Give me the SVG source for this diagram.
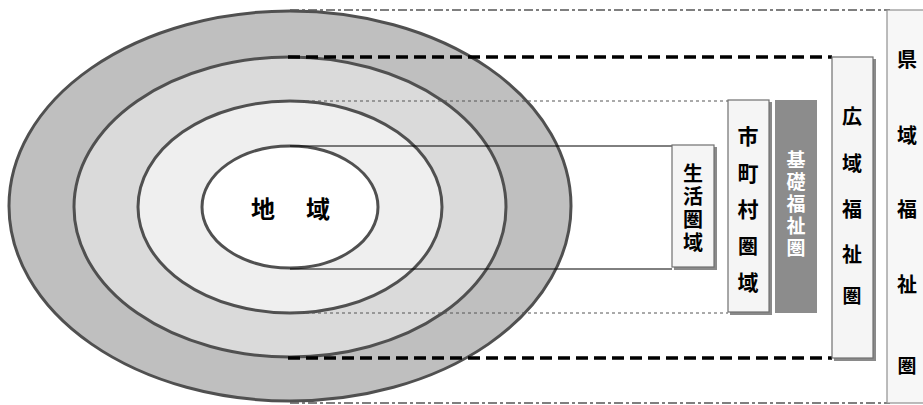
<svg xmlns="http://www.w3.org/2000/svg" width="923" height="405" viewBox="0 0 923 405">
<style>
.ring{stroke:#505050;stroke-width:3}
.t{font-family:"Noto Sans CJK JP","Noto Sans CJK SC",sans-serif;font-weight:bold;fill:#000;text-anchor:middle;dominant-baseline:central}
.v{writing-mode:vertical-rl;text-orientation:upright}
.box{fill:#f5f5f5;stroke:#707070;stroke-width:1.2}
.sh{fill:#8a8a8a}
.w{fill:#fff}
</style>
<rect width="923" height="405" fill="#fff"/>
<g id="ellipses">
<ellipse class="ring" cx="290" cy="206" rx="281" ry="195" fill="#bfbfbf"/>
<ellipse class="ring" cx="290" cy="207" rx="216" ry="150" fill="#dadada"/>
<ellipse class="ring" cx="290" cy="207" rx="152" ry="106" fill="#efefef"/>
<g id="chiiki">
<ellipse class="ring" cx="290" cy="207" rx="88" ry="61" fill="#fff"/>
<text class="t" x="263" y="207" font-size="24">地</text>
<text class="t" x="318" y="207" font-size="24">域</text>
</g>
</g>
<g id="connectors" fill="none">
<path d="M290 10H890M290 403H890" stroke="#555" stroke-width="1.5" stroke-dasharray="9,3,3,3"/>
<path d="M288 57H832M288 358H832" stroke="#000" stroke-width="3.5" stroke-dasharray="12,6"/>
<path d="M288 101H728M288 313H728" stroke="#555" stroke-width="1" stroke-dasharray="3,3"/>
<path d="M290 146H672M290 269H672" stroke="#000" stroke-width="1"/>
</g>
<g id="kenikifukushiken">
<rect x="887" y="10" width="40" height="393" fill="#f7f7f7" stroke="#909090" stroke-width="1.2"/>
<text class="t" x="907" y="58" font-size="20">県</text>
<text class="t" x="907" y="134" font-size="20">域</text>
<text class="t" x="907" y="208" font-size="20">福</text>
<text class="t" x="907" y="283" font-size="20">祉</text>
<text class="t" x="907" y="364" font-size="19">圏</text>
</g>
<g id="kouikifukushiken">
<rect class="sh" x="834" y="59" width="42" height="302"/>
<rect class="box" x="832" y="57" width="41" height="301"/>
<text class="t" x="852" y="115" font-size="20">広</text>
<text class="t" x="852" y="162" font-size="20">域</text>
<text class="t" x="852" y="208" font-size="20">福</text>
<text class="t" x="852" y="253" font-size="20">祉</text>
<text class="t" x="852" y="294" font-size="19">圏</text>
</g>
<g id="kisofukushiken">
<rect x="775" y="100" width="42" height="213" fill="#8c8c8c"/>
<text class="t v w" x="796" y="205" font-size="19" letter-spacing="3">基礎福祉圏</text>
</g>
<g id="shichosonkeniki">
<rect class="sh" x="730" y="102" width="42" height="213"/>
<rect class="box" x="728" y="100" width="41" height="212"/>
<text class="t" x="748" y="135" font-size="21">市</text>
<text class="t" x="748" y="172" font-size="21">町</text>
<text class="t" x="748" y="208" font-size="21">村</text>
<text class="t" x="748" y="245" font-size="20">圏</text>
<text class="t" x="748" y="281" font-size="21">域</text>
</g>
<g id="seikatsukeniki">
<rect class="sh" x="674" y="147" width="43" height="123"/>
<rect class="box" x="672" y="145" width="42" height="122"/>
<text class="t v" x="693" y="209" font-size="20" letter-spacing="3">生活圏域</text>
</g>
</svg>
